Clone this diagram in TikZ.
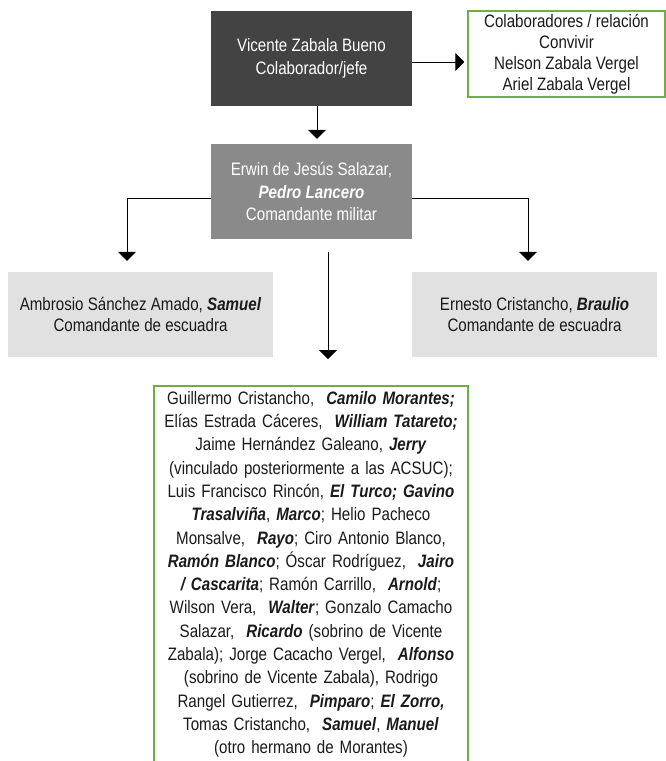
\documentclass[tikz,border=0pt]{standalone}
\usepackage{fontspec}
\setmainfont[FakeStretch=0.84]{Liberation Sans}
\usetikzlibrary{arrows.meta}
\definecolor{dk}{HTML}{434343}
\definecolor{md}{HTML}{8A8A8A}
\definecolor{lt}{HTML}{E1E1E1}
\definecolor{grn}{HTML}{70AD47}
\definecolor{txt}{HTML}{1A1A1A}
\newcommand{\bi}[1]{\textbf{\textit{#1}}}
\begin{document}
\begin{tikzpicture}[x=1pt,y=-1pt,
  box/.style={rectangle, inner sep=0pt, align=center, text=txt, font=\fontsize{18}{22.5}\selectfont},
  arr/.style={-{Triangle[width=18pt,length=9pt]}, line width=1pt, draw=black},
  frame/.style={draw=grn, line width=1.5pt},
]
\useasboundingbox (0,0) rectangle (666,761);
\fill[white] (0,0) rectangle (666,761);

\node[box, fill=dk, text=white, minimum width=201pt, minimum height=95pt] (top) at (311.5,58.5)
  {Vicente Zabala Bueno\\Colaborador/jefe};
\node[box, frame, fill=white, minimum width=197pt, minimum height=86pt, font=\fontsize{18}{21}\selectfont] (rel) at (566.5,54)
  {Colaboradores / relación\\Convivir\\Nelson Zabala Vergel\\Ariel Zabala Vergel};
\node[box, fill=md, text=white, minimum width=201pt, minimum height=95pt] (cmd) at (311.5,191.5)
  {Erwin de Jesús Salazar,\\\bi{Pedro Lancero}\\Comandante militar};
\node[box, fill=lt, minimum width=265pt, minimum height=85pt, font=\fontsize{18}{21}\selectfont] (left) at (140.5,314.5)
  {Ambrosio Sánchez Amado, \bi{Samuel}\\Comandante de escuadra};
\node[box, fill=lt, minimum width=245pt, minimum height=85pt, font=\fontsize{18}{21}\selectfont] (right) at (534.5,314.5)
  {Ernesto Cristancho, \bi{Braulio}\\Comandante de escuadra};
\node[box, anchor=north, minimum width=314pt, text width=310pt, inner ysep=5pt, font=\fontsize{18}{23.3}\selectfont] (bot) at (311,386)
  {Guillermo Cristancho,\ \ \bi{Camilo Morantes;}\\
   Elías Estrada Cáceres,\ \ \bi{William Tatareto;}\\
   Jaime Hernández Galeano, \bi{Jerry}\\
   (vinculado posteriormente a las ACSUC);\\
   Luis Francisco Rincón, \bi{El Turco; Gavino}\\
   \bi{Trasalviña}, \bi{Marco}; Helio Pacheco\\
   Monsalve,\ \ \bi{Rayo}; Ciro Antonio Blanco,\\
   \bi{Ramón Blanco}; Óscar Rodríguez,\ \ \bi{Jairo}\\
   \bi{/ Cascarita}; Ramón Carrillo,\ \ \bi{Arnold};\\
   Wilson Vera,\ \ \bi{Walter}; Gonzalo Camacho\\
   Salazar,\ \ \bi{Ricardo} (sobrino de Vicente\\
   Zabala); Jorge Cacacho Vergel,\ \ \bi{Alfonso}\\
   (sobrino de Vicente Zabala), Rodrigo\\
   Rangel Gutierrez,\ \ \bi{Pimparo}; \bi{El Zorro,}\\
   Tomas Cristancho,\ \ \bi{Samuel}, \bi{Manuel}\\
   (otro hermano de Morantes)};
\draw[frame] ([yshift=-420pt]bot.north west) -- (bot.north west) -- (bot.north east) -- ([yshift=-420pt]bot.north east);

\draw[arr, shorten >=3pt] ([yshift=-3.5pt]top.east) -- ([yshift=-3.5pt]top.east -| rel.west);
\draw[arr, shorten >=5pt] ([xshift=5.5pt]top.south) -- ([xshift=5.5pt]top.south |- cmd.north);
\draw[arr, shorten >=11pt] ([yshift=-6.5pt]cmd.west) -| ([xshift=-13.5pt]left.north);
\draw[arr, shorten >=11pt] ([yshift=-6.5pt]cmd.east) -| ([xshift=-6.5pt]right.north);
\draw[arr, shorten <=13pt, shorten >=27pt] ([xshift=16.5pt]cmd.south) -- ([xshift=16.5pt]cmd.south |- bot.north);
\end{tikzpicture}
\end{document}
